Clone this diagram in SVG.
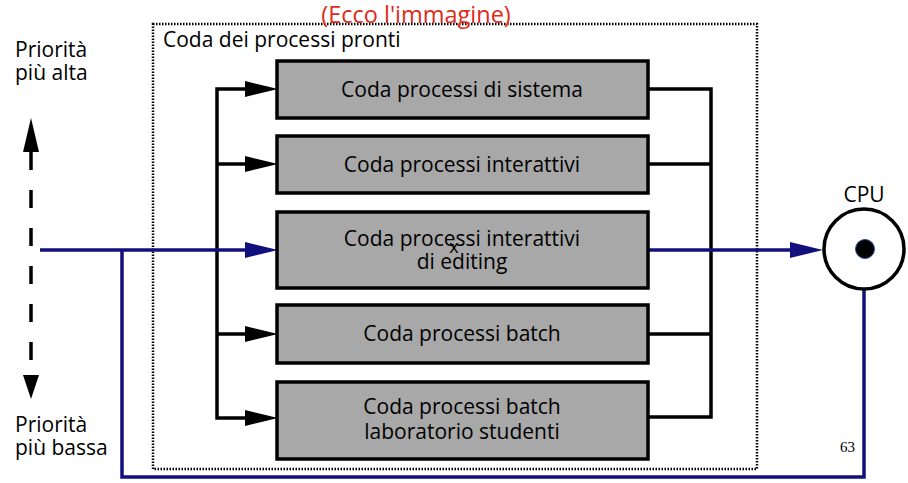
<svg xmlns="http://www.w3.org/2000/svg" width="908" height="483" viewBox="0 0 908 483">
<style>
text{font-family:"Open Sans","Liberation Sans",sans-serif;fill:#000}
.lbl{font-size:21px}
.box{fill:#a8a8a8;stroke:#000;stroke-width:3.5}
.blk{stroke:#000;stroke-width:3.5;fill:none}
.nav{stroke:#12107d;stroke-width:3.5;fill:none}
.ahb{fill:#000}
.ahn{fill:#12107d}
</style>
<rect width="908" height="483" fill="#fff"/>
<g id="container">
<rect x="153" y="24" width="604" height="445" fill="none" stroke="#000" stroke-width="2.5" stroke-dasharray="1.5 1.5"/>
<text class="lbl" x="163" y="47">Coda dei processi pronti</text>
</g>
<text x="416" y="23" text-anchor="middle" font-size="23.5" style="fill:#e02a1a">(Ecco l'immagine)</text>
<g id="priority-high"><text class="lbl" x="15" y="57">Priorità</text><text class="lbl" x="15" y="80">più alta</text></g>
<g id="priority-low"><text class="lbl" x="15" y="432">Priorità</text><text class="lbl" x="15" y="455">più bassa</text></g>
<g id="connectors">
<line x1="31" y1="150" x2="31" y2="375" class="blk" stroke-dasharray="18 20" stroke-dashoffset="-2"/>
<polygon class="ahb" points="31,118 39,152 23,152"/>
<polygon class="ahb" points="31,399 39,375 23,375"/>
<polyline class="blk" points="250,89 217,89 217,418 250,418"/>
<line class="blk" x1="217" y1="164" x2="250" y2="164"/>
<line class="blk" x1="217" y1="334" x2="250" y2="334"/>
<polygon class="ahb" points="245,81 278,89 245,97"/>
<polygon class="ahb" points="245,156 278,164 245,172"/>
<polygon class="ahb" points="245,326 278,334 245,342"/>
<polygon class="ahb" points="245,410 278,418 245,426"/>
<polyline class="blk" points="648,89 711,89 711,417 648,417"/>
<line class="blk" x1="648" y1="164" x2="711" y2="164"/>
<line class="blk" x1="648" y1="334" x2="711" y2="334"/>
<line class="nav" x1="40" y1="250" x2="250" y2="250"/>
<polygon class="ahn" points="245,242 278,250 245,258"/>
<line class="nav" x1="648" y1="250" x2="795" y2="250"/>
<polygon class="ahn" points="790,242 823,250 790,258"/>
<polyline class="nav" points="864,289 864,477 122,477 122,250"/>
</g>
<g id="q1"><rect class="box" x="277" y="61" width="371" height="57"/><text class="lbl" x="462" y="97" text-anchor="middle">Coda processi di sistema</text></g>
<g id="q2"><rect class="box" x="277" y="136" width="371" height="57"/><text class="lbl" x="462" y="172" text-anchor="middle">Coda processi interattivi</text></g>
<g id="q3"><rect class="box" x="277" y="212" width="371" height="76"/><text class="lbl" x="462" y="246" text-anchor="middle">Coda processi interattivi</text><text class="lbl" x="462" y="269" text-anchor="middle">di editing</text><text x="454" y="253" font-size="18" text-anchor="middle">x</text></g>
<g id="q4"><rect class="box" x="277" y="305" width="371" height="58"/><text class="lbl" x="462" y="341" text-anchor="middle">Coda processi batch</text></g>
<g id="q5"><rect class="box" x="277" y="382" width="371" height="77"/><text class="lbl" x="462" y="414" text-anchor="middle">Coda processi batch</text><text class="lbl" x="462" y="439" text-anchor="middle">laboratorio studenti</text></g>
<g id="cpu"><circle cx="864" cy="249" r="40" fill="#fff" stroke="#000" stroke-width="3.5"/><circle cx="865" cy="249" r="9.5" fill="#000" stroke="#2a4aa0" stroke-width="1"/><text class="lbl" x="864" y="202" text-anchor="middle">CPU</text></g>
<text x="840" y="452" style="font-family:'Liberation Serif',serif" font-size="15">63</text>
</svg>
